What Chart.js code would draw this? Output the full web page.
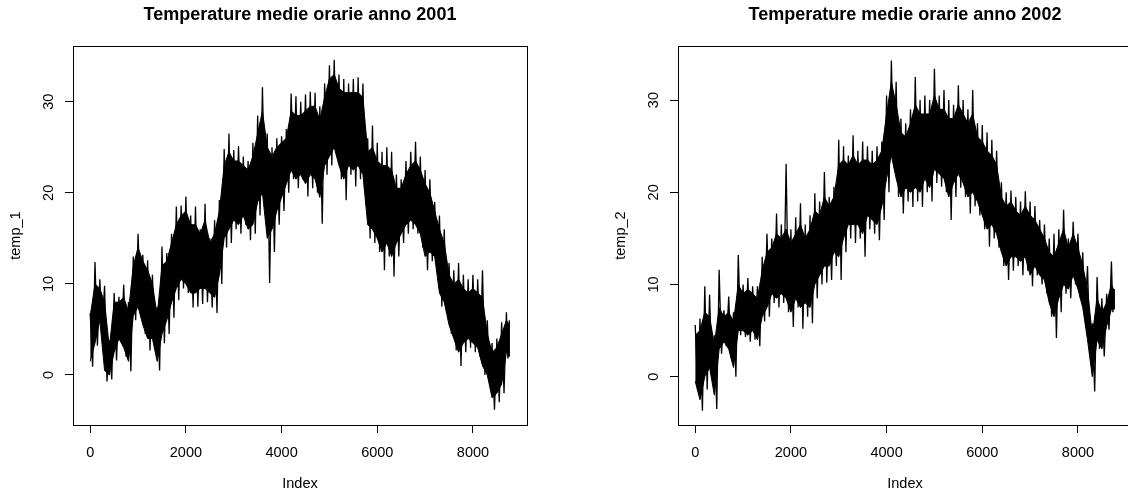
<!DOCTYPE html>
<html>
<head>
<meta charset="utf-8">
<script src="https://cdn.jsdelivr.net/npm/chart.js@4.4.0/dist/chart.umd.min.js"></script>
<style>
  html, body { margin: 0; padding: 0; background: #fff; overflow: hidden; }
  body { width: 1128px; height: 493px; position: relative; }
  .panel { position: absolute; top: 0; width: 564px; height: 493px; }
  #left { left: 0; }
  #right { left: 605px; }
</style>
</head>
<body>
<div class="panel" id="left"><canvas id="chart1" width="564" height="493"></canvas></div>
<div class="panel" id="right"><canvas id="chart2" width="564" height="493"></canvas></div>
<script>
// hour of the year (start of each 100-hour block, last = end of series)
const hourIndex = [
  0, 100, 200, 300, 400, 500, 600, 700, 800, 900,
  1000, 1100, 1200, 1300, 1400, 1500, 1600, 1700, 1800, 1900,
  2000, 2100, 2200, 2300, 2400, 2500, 2600, 2700, 2800, 2900,
  3000, 3100, 3200, 3300, 3400, 3500, 3600, 3700, 3800, 3900,
  4000, 4100, 4200, 4300, 4400, 4500, 4600, 4700, 4800, 4900,
  5000, 5100, 5200, 5300, 5400, 5500, 5600, 5700, 5800, 5900,
  6000, 6100, 6200, 6300, 6400, 6500, 6600, 6700, 6800, 6900,
  7000, 7100, 7200, 7300, 7400, 7500, 7600, 7700, 7800, 7900,
  8000, 8100, 8200, 8300, 8400, 8500, 8600, 8700, 8760
];

// 2001: extreme hourly values (spikes) in each block
const temp1Max = [
  6.8, 12.4, 10.5, 9.8, 3.8, 9.0, 8.6, 9.9, 8.0, 13.0,
  15.5, 13.2, 12.6, 11.0, 7.5, 14.1, 13.4, 15.5, 18.5, 18.6,
  19.6, 17.5, 18.5, 16.0, 18.8, 15.0, 17.0, 19.2, 24.8, 26.5,
  24.7, 25.1, 24.0, 23.5, 25.5, 28.5, 31.6, 26.5, 25.0, 26.0,
  26.2, 27.0, 30.9, 30.6, 30.0, 30.8, 31.1, 31.0, 29.5, 32.0,
  34.0, 34.6, 33.0, 32.5, 32.0, 32.5, 32.7, 32.0, 26.0, 27.4,
  25.5, 24.5, 25.0, 24.5, 22.0, 21.5, 23.5, 24.5, 25.6, 24.0,
  22.5, 21.5, 19.0, 17.5, 16.0, 12.3, 11.5, 12.3, 11.0, 10.5,
  11.0, 10.5, 11.5, 6.0, 3.5, 4.0, 5.8, 6.9, 6.0
];
const temp1Min = [
  0.9, 3.2, 5.3, -0.7, -0.5, 1.6, 3.8, 2.0, 0.4, 6.0,
  7.0, 4.5, 2.7, 3.5, 0.5, 3.5, 4.5, 6.3, 8.2, 9.5,
  9.0, 7.4, 7.5, 7.8, 8.0, 7.4, 6.8, 10.0, 14.0, 14.5,
  16.0, 15.5, 16.5, 14.8, 15.5, 17.5, 18.5, 10.1, 13.5, 16.5,
  18.0, 20.0, 21.5, 20.5, 21.4, 19.6, 20.5, 20.0, 16.6, 22.0,
  23.0, 24.0, 21.5, 19.2, 22.0, 20.7, 21.5, 20.0, 15.0, 14.5,
  13.5, 11.5, 13.0, 10.8, 13.0, 14.5, 15.5, 16.0, 15.5, 14.0,
  11.5, 12.5, 12.0, 7.5, 6.8, 4.5, 2.7, 1.0, 2.5, 3.0,
  2.5, 2.0, 0.0, -1.0, -3.8, -3.0, -2.0, 1.8, 2.0
];
// 2001: edges of the dense (solid black) part of the trace
const temp1BodyHigh = [
  6.5, 10.0, 9.5, 8.0, 3.0, 8.0, 8.0, 8.5, 7.0, 12.0,
  14.0, 12.5, 11.5, 10.0, 6.5, 12.0, 12.5, 14.5, 16.5, 17.5,
  18.0, 16.5, 16.5, 15.5, 17.0, 14.5, 15.5, 18.0, 23.0, 24.5,
  23.5, 23.5, 23.0, 22.5, 24.0, 26.5, 29.0, 25.0, 24.0, 25.0,
  25.5, 26.0, 29.0, 28.5, 28.5, 29.0, 29.5, 29.5, 28.0, 30.5,
  32.5, 33.0, 31.5, 31.0, 31.0, 31.0, 31.0, 30.5, 24.5, 25.0,
  23.5, 23.0, 23.0, 22.5, 20.5, 20.5, 22.0, 23.0, 23.5, 22.5,
  21.0, 20.0, 18.0, 16.0, 14.5, 11.0, 10.0, 10.5, 9.5, 9.0,
  9.5, 9.0, 8.5, 4.5, 2.5, 3.0, 4.5, 6.0, 5.5
];
const temp1BodyLow = [
  1.5, 3.5, 6.0, 0.5, 0.0, 2.5, 4.0, 3.0, 1.5, 6.5,
  7.5, 5.5, 4.0, 4.0, 1.5, 4.5, 6.0, 8.0, 9.5, 10.5,
  10.0, 9.0, 9.0, 9.5, 9.5, 9.0, 8.5, 11.0, 15.0, 16.0,
  17.0, 16.5, 17.5, 16.0, 16.5, 19.0, 20.0, 15.0, 16.0, 18.0,
  19.5, 21.0, 22.5, 21.5, 22.0, 21.0, 22.0, 21.5, 19.5, 23.0,
  24.0, 25.0, 23.0, 21.5, 23.0, 22.5, 23.0, 22.0, 16.5, 16.0,
  15.0, 13.5, 14.5, 13.0, 14.5, 15.5, 16.5, 17.0, 16.5, 15.5,
  13.0, 13.5, 13.0, 9.0, 8.0, 5.5, 4.0, 2.5, 3.5, 4.0,
  3.5, 3.0, 1.0, 0.0, -2.5, -2.0, -1.0, 2.5, 2.5
];

// 2002: extreme hourly values (spikes) in each block
const temp2Max = [
  5.6, 6.3, 9.8, 8.9, 4.5, 11.6, 7.2, 8.7, 7.0, 13.2,
  10.0, 10.7, 9.8, 9.8, 13.0, 15.5, 15.0, 17.7, 16.5, 23.1,
  16.0, 17.3, 18.8, 16.5, 17.5, 19.9, 19.0, 22.2, 19.5, 20.6,
  25.7, 25.0, 24.0, 26.2, 24.5, 25.5, 25.0, 24.5, 25.0, 25.5,
  30.5, 34.3, 32.0, 28.0, 27.5, 29.0, 32.5, 30.0, 30.5, 30.0,
  33.4, 30.5, 31.1, 30.0, 29.5, 31.6, 30.0, 29.0, 31.1, 27.5,
  27.3, 26.5, 25.7, 24.5, 21.1, 20.0, 20.2, 19.5, 19.0, 20.1,
  19.0, 18.5, 17.0, 16.5, 15.0, 15.5, 16.0, 18.1, 15.0, 16.8,
  15.5, 13.5, 12.0, 5.8, 10.8, 8.5, 9.0, 12.5, 9.5
];
const temp2Min = [
  -1.5, -3.7, -1.4, 0.0, -3.5, 2.5, 3.3, 2.0, 0.0, 4.5,
  4.3, 3.8, 4.0, 3.3, 6.0, 6.5, 8.0, 7.5, 8.0, 7.0,
  5.4, 7.5, 5.2, 6.5, 5.8, 8.5, 10.0, 10.2, 10.5, 12.0,
  10.5, 13.5, 15.0, 14.5, 15.0, 13.0, 16.0, 15.5, 14.8, 17.0,
  20.0, 23.0, 19.5, 17.7, 19.0, 18.4, 19.0, 18.4, 20.0, 19.0,
  21.0, 20.6, 20.0, 17.0, 19.5, 20.5, 19.5, 17.7, 18.5, 17.5,
  16.0, 14.1, 15.0, 14.0, 12.0, 10.5, 11.5, 12.0, 11.0, 11.5,
  9.8, 11.0, 10.0, 9.0, 6.5, 4.2, 7.0, 9.0, 8.5, 10.0,
  8.5, 6.5, 2.5, -1.6, 3.0, 2.2, 5.1, 7.0, 7.3
];
const temp2BodyHigh = [
  4.5, 5.0, 7.0, 6.5, 3.5, 7.5, 6.5, 7.0, 6.0, 10.0,
  9.0, 9.5, 9.0, 8.5, 11.5, 13.5, 14.0, 15.5, 15.0, 16.0,
  14.5, 15.5, 16.5, 15.0, 16.0, 18.0, 17.5, 19.5, 18.5, 19.5,
  23.0, 23.5, 23.0, 24.0, 23.0, 23.5, 23.5, 23.0, 23.5, 24.5,
  28.5, 32.0, 29.5, 26.5, 26.0, 27.5, 29.5, 28.5, 28.5, 28.5,
  30.5, 29.0, 29.0, 28.0, 28.0, 29.5, 28.5, 27.5, 28.5, 26.0,
  25.5, 24.5, 24.0, 23.0, 19.5, 18.5, 19.0, 18.0, 17.5, 18.5,
  17.5, 17.0, 16.0, 15.0, 13.5, 13.0, 14.5, 16.0, 14.0, 15.5,
  14.0, 12.0, 9.5, 4.5, 8.5, 7.0, 8.0, 10.0, 9.3
];
const temp2BodyLow = [
  -0.5, -2.5, 0.0, 1.0, -2.0, 3.0, 3.8, 3.0, 1.0, 5.0,
  5.0, 4.5, 5.0, 4.0, 6.5, 7.5, 9.0, 8.5, 9.0, 8.5,
  7.0, 8.5, 7.5, 8.0, 7.5, 10.0, 11.0, 12.0, 12.0, 13.5,
  13.0, 15.0, 16.5, 16.5, 16.5, 15.5, 17.5, 17.0, 16.5, 18.5,
  21.5, 24.0, 21.5, 19.5, 20.5, 20.0, 20.5, 20.0, 21.5, 20.5,
  22.5, 22.0, 21.5, 19.5, 21.0, 22.0, 21.0, 19.5, 20.0, 19.0,
  17.5, 16.0, 16.5, 15.5, 13.5, 12.0, 13.0, 13.0, 12.5, 13.0,
  11.0, 12.0, 11.0, 10.5, 8.0, 6.5, 8.5, 10.0, 9.5, 11.0,
  9.5, 7.5, 4.0, 0.0, 4.0, 3.0, 5.5, 7.3, 7.5
];

const xTicks = [0, 2000, 4000, 6000, 8000];
const yTicks = [0, 10, 20, 30];

const FONT = "'Liberation Sans', Arial, Helvetica, sans-serif";

// R draws a full box around the plot region
const boxPlugin = {
  id: "rbox",
  afterDraw(chart) {
    const { ctx, chartArea: a } = chart;
    ctx.save();
    ctx.strokeStyle = "#000";
    ctx.lineWidth = 1;
    const l = Math.round(a.left) + 0.5, t = Math.round(a.top) + 0.5;
    ctx.strokeRect(l, t, Math.round(a.right) - Math.round(a.left), Math.round(a.bottom) - Math.round(a.top));
    ctx.restore();
  }
};

// one line that swings from each block's max to its min, like the hourly trace
function hourlyTrace(hi, lo) {
  const pts = [];
  hourIndex.forEach((x, i) => {
    const next = i + 1 < hourIndex.length ? hourIndex[i + 1] : x;
    pts.push({ x, y: hi[i] });
    pts.push({ x: (x + next) / 2, y: lo[i] });
  });
  return pts;
}

function makeChart(id, title, yLabel, hi, lo, bodyHi, bodyLo, yMin, yMax) {
  const tickFont = { family: FONT, size: 14.5 };
  const line = { borderColor: "#000", pointRadius: 0, tension: 0 };
  return new Chart(document.getElementById(id), {
    type: "line",
    data: {
      datasets: [
        { ...line, data: hourIndex.map((x, i) => ({ x, y: bodyHi[i] })), borderWidth: 1, fill: false },
        { ...line, data: hourIndex.map((x, i) => ({ x, y: bodyLo[i] })), borderWidth: 1, fill: "-1", backgroundColor: "#000" },
        { ...line, data: hourlyTrace(hi, lo), borderWidth: 1.3, fill: false }
      ]
    },
    options: {
      responsive: false,
      animation: false,
      devicePixelRatio: 1,
      layout: { padding: { left: 0, right: 37, top: 0, bottom: 0 } },
      plugins: {
        legend: { display: false },
        tooltip: { enabled: false },
        title: {
          display: true,
          text: title,
          fullSize: false,
          color: "#000",
          font: { family: FONT, size: 18, weight: "bold" },
          padding: { top: 4, bottom: 20.5 }
        }
      },
      scales: {
        x: {
          type: "linear",
          min: -360,
          max: 9130,
          afterBuildTicks: (s) => { s.ticks = xTicks.map(v => ({ value: v })); },
          afterFit: (s) => { s.height = 68; },
          grid: { drawOnChartArea: false, drawTicks: true, tickLength: 8, color: "#000" },
          border: { display: true, color: "#000", width: 1 },
          ticks: { color: "#000", font: tickFont, padding: 11.5, maxRotation: 0, autoSkip: false, callback: (v) => String(v) },
          title: { display: true, text: "Index", color: "#000", font: tickFont, padding: { top: 0, bottom: 0 } }
        },
        y: {
          type: "linear",
          min: yMin,
          max: yMax,
          afterBuildTicks: (s) => { s.ticks = yTicks.map(v => ({ value: v })); },
          afterFit: (s) => { s.width = 73; },
          grid: { drawOnChartArea: false, drawTicks: true, tickLength: 8, color: "#000" },
          border: { display: true, color: "#000", width: 1 },
          ticks: { color: "#000", font: tickFont, padding: 8, minRotation: 90, maxRotation: 90, crossAlign: "center", callback: (v) => String(v) },
          title: { display: true, text: yLabel, color: "#000", font: tickFont, padding: { top: 7, bottom: 0 } }
        }
      }
    },
    plugins: [boxPlugin]
  });
}

makeChart("chart1", "Temperature medie orarie anno 2001", "temp_1",
  temp1Max, temp1Min, temp1BodyHigh, temp1BodyLow, -5.49, 36.11);
makeChart("chart2", "Temperature medie orarie anno 2002", "temp_2",
  temp2Max, temp2Min, temp2BodyHigh, temp2BodyLow, -5.24, 35.86);
</script>
</body>
</html>
